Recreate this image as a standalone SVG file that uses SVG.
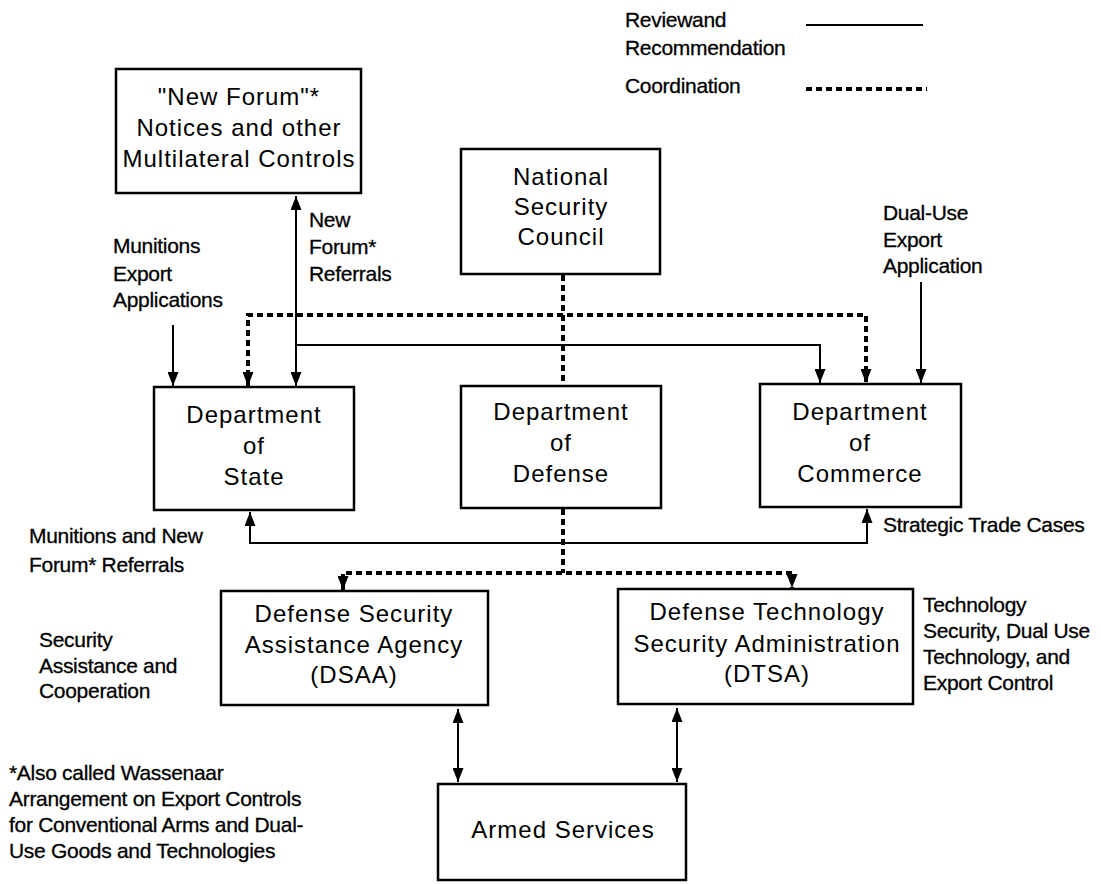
<svg xmlns="http://www.w3.org/2000/svg" width="1101" height="884" viewBox="0 0 1101 884">
<style>
.box{fill:#fff;stroke:#000;stroke-width:2.5}
.bt{font-family:"Liberation Sans",Arial,sans-serif;font-size:24px;letter-spacing:1px;text-anchor:middle;fill:#000}
.lb{font-family:"Liberation Sans",Arial,sans-serif;font-size:21px;letter-spacing:-0.3px;fill:#000;stroke:#000;stroke-width:0.3}
.solid{fill:none;stroke:#000;stroke-width:2}
.dot{fill:none;stroke:#000;stroke-width:4;stroke-dasharray:6 4}
</style>
<defs>
<marker id="ah" viewBox="0 0 14 11" refX="14" refY="5.5" markerWidth="14" markerHeight="11" markerUnits="userSpaceOnUse" orient="auto-start-reverse">
<path d="M0,0 L14,5.5 L0,11 z" fill="#000"/>
</marker>
</defs>
<rect width="1101" height="884" fill="#fff"/>

<g id="legend">
<text class="lb" x="625" y="27">Reviewand</text>
<text class="lb" x="625" y="55">Recommendation</text>
<text class="lb" x="625" y="93">Coordination</text>
<line class="solid" x1="806" y1="25" x2="923" y2="25"/>
<line class="dot" x1="806" y1="89" x2="927" y2="89"/>
</g>

<g id="connectors">
<path class="solid" d="M173,325 V386" marker-end="url(#ah)"/>
<path class="solid" d="M296,196 V386" marker-start="url(#ah)" marker-end="url(#ah)"/>
<path class="solid" d="M296,345 H820 V383" marker-end="url(#ah)"/>
<path class="solid" d="M921,282 V383" marker-end="url(#ah)"/>
<path class="solid" d="M250,512 V543 H867 V509" marker-start="url(#ah)" marker-end="url(#ah)"/>
<path class="solid" d="M458,709 V782" marker-start="url(#ah)" marker-end="url(#ah)"/>
<path class="solid" d="M677,708 V782" marker-start="url(#ah)" marker-end="url(#ah)"/>
<path class="dot" d="M563,275 V385"/>
<path class="dot" d="M248,386 V315 H866 V383" marker-start="url(#ah)" marker-end="url(#ah)"/>
<path class="dot" d="M563,509 V573"/>
<path class="dot" d="M343,590 V573 H792 V588" marker-start="url(#ah)" marker-end="url(#ah)"/>
</g>

<g id="newforum">
<rect class="box" x="116" y="69" width="245" height="124"/>
<text class="bt" x="239" y="105">"New Forum"*</text>
<text class="bt" x="239" y="136">Notices and other</text>
<text class="bt" x="239" y="167">Multilateral Controls</text>
</g>

<g id="nsc">
<rect class="box" x="461" y="149" width="199" height="125"/>
<text class="bt" x="561" y="185">National</text>
<text class="bt" x="561" y="215">Security</text>
<text class="bt" x="561" y="245">Council</text>
</g>

<g id="state">
<rect class="box" x="154" y="387" width="200" height="123"/>
<text class="bt" x="254" y="423">Department</text>
<text class="bt" x="254" y="454">of</text>
<text class="bt" x="254" y="485">State</text>
</g>

<g id="defense">
<rect class="box" x="461" y="386" width="200" height="122"/>
<text class="bt" x="561" y="420">Department</text>
<text class="bt" x="561" y="451">of</text>
<text class="bt" x="561" y="482">Defense</text>
</g>

<g id="commerce">
<rect class="box" x="760" y="384" width="201" height="123"/>
<text class="bt" x="860" y="420">Department</text>
<text class="bt" x="860" y="451">of</text>
<text class="bt" x="860" y="482">Commerce</text>
</g>

<g id="dsaa">
<rect class="box" x="221" y="591" width="267" height="114"/>
<text class="bt" x="354" y="622">Defense Security</text>
<text class="bt" x="354" y="653">Assistance Agency</text>
<text class="bt" x="354" y="683">(DSAA)</text>
</g>

<g id="dtsa">
<rect class="box" x="618" y="589" width="295" height="115"/>
<text class="bt" x="767" y="620">Defense Technology</text>
<text class="bt" x="767" y="652">Security Administration</text>
<text class="bt" x="767" y="682">(DTSA)</text>
</g>

<g id="armed">
<rect class="box" x="438" y="784" width="248" height="96"/>
<text class="bt" x="563" y="838">Armed Services</text>
</g>

<g id="labels">
<text class="lb" x="113" y="253">Munitions</text>
<text class="lb" x="113" y="281">Export</text>
<text class="lb" x="113" y="307">Applications</text>
<text class="lb" x="309" y="227">New</text>
<text class="lb" x="309" y="254">Forum*</text>
<text class="lb" x="309" y="281">Referrals</text>
<text class="lb" x="883" y="220">Dual-Use</text>
<text class="lb" x="883" y="247">Export</text>
<text class="lb" x="883" y="273">Application</text>
<text class="lb" x="29" y="543">Munitions and New</text>
<text class="lb" x="29" y="572">Forum* Referrals</text>
<text class="lb" x="883" y="532">Strategic Trade Cases</text>
<text class="lb" x="39" y="647">Security</text>
<text class="lb" x="39" y="673">Assistance and</text>
<text class="lb" x="39" y="698">Cooperation</text>
<text class="lb" x="923" y="612">Technology</text>
<text class="lb" x="923" y="638">Security, Dual Use</text>
<text class="lb" x="923" y="664">Technology, and</text>
<text class="lb" x="923" y="690">Export Control</text>
<text class="lb" x="9" y="780">*Also called Wassenaar</text>
<text class="lb" x="9" y="806">Arrangement on Export Controls</text>
<text class="lb" x="9" y="832">for Conventional Arms and Dual-</text>
<text class="lb" x="9" y="858">Use Goods and Technologies</text>
</g>
</svg>
